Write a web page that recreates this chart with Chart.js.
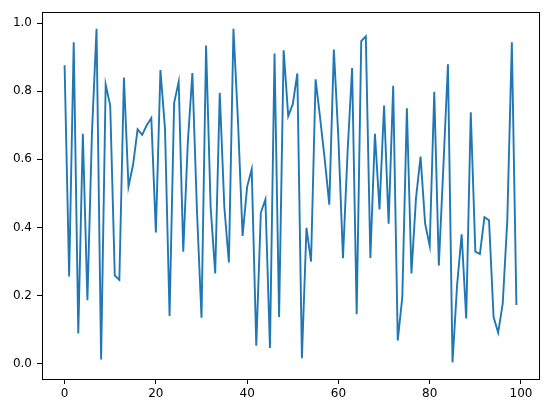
<!DOCTYPE html>
<html>
<head>
<meta charset="utf-8">
<script src="https://cdn.jsdelivr.net/npm/chart.js@4/dist/chart.umd.min.js"></script>
<style>
  body { margin: 0; background: #fff; }
  canvas { display: block; }
</style>
</head>
<body>
<canvas id="lineChart" width="547" height="413"></canvas>
<script>
// values, one per integer x (0..99)
const seriesValues = [
    0.876, 0.256, 0.944, 0.089, 0.675, 0.186, 0.68, 0.983, 0.012, 0.82,
    0.758, 0.259, 0.246, 0.840, 0.520, 0.584, 0.688, 0.672, 0.70, 0.721,
    0.385, 0.862, 0.69, 0.14, 0.765, 0.828, 0.329, 0.65, 0.853, 0.45,
    0.135, 0.934, 0.46, 0.265, 0.795, 0.46, 0.297, 0.983, 0.71, 0.375,
    0.52, 0.571, 0.053, 0.443, 0.482, 0.046, 0.911, 0.137, 0.920, 0.727,
    0.762, 0.852, 0.016, 0.399, 0.30, 0.835, 0.72, 0.60, 0.467, 0.922,
    0.66, 0.31, 0.62, 0.868, 0.145, 0.947, 0.961, 0.31, 0.675, 0.453,
    0.758, 0.411, 0.816, 0.068, 0.196, 0.75, 0.265, 0.486, 0.608, 0.411,
    0.346, 0.798, 0.288, 0.58, 0.879, 0.004, 0.23, 0.38, 0.133, 0.738,
    0.329, 0.322, 0.430, 0.421, 0.137, 0.091, 0.176, 0.42, 0.944, 0.172
];
const xTicks = [0, 20, 40, 60, 80, 100];
const yTicks = [0.0, 0.2, 0.4, 0.6, 0.8, 1.0];

// matplotlib style 5% margins around the data
const xLo = 0, xHi = seriesValues.length - 1;
const xPad = (xHi - xLo) * 0.05;
const yLo = Math.min(...seriesValues), yHi = Math.max(...seriesValues);
const yPad = (yHi - yLo) * 0.05;

const frame = {
    id: 'frame',
    afterDraw(chart) {
        const { ctx, chartArea: a } = chart;
        ctx.save();
        ctx.strokeStyle = '#000';
        ctx.lineWidth = 1;
        ctx.strokeRect(Math.round(a.left) + 0.5, Math.round(a.top) + 0.5,
            Math.round(a.right - a.left), Math.round(a.bottom - a.top));
        ctx.restore();
    }
};

const tickFont = { family: 'DejaVu Sans', size: 12 };

new Chart(document.getElementById('lineChart'), {
    type: 'line',
    data: {
        datasets: [{
            data: seriesValues.map((v, i) => ({ x: i, y: v })),
            borderColor: '#1f77b4',
            borderWidth: 1.9,
            pointRadius: 0,
            tension: 0,
            fill: false
        }]
    },
    options: {
        responsive: false,
        animation: false,
        devicePixelRatio: 1,
        layout: { padding: { top: 10, right: 8, left: 0, bottom: 0 } },
        plugins: { legend: { display: false }, tooltip: { enabled: false } },
        scales: {
            x: {
                type: 'linear',
                min: xLo - xPad,
                max: xHi + xPad,
                afterBuildTicks: s => { s.ticks = xTicks.map(v => ({ value: v })); },
                afterFit: s => { s.height = 34; },
                grid: { drawOnChartArea: false, drawTicks: true, tickLength: 5, color: '#000' },
                border: { display: false },
                ticks: { color: '#000', font: tickFont, padding: 3, maxRotation: 0,
                         callback: v => String(v) }
            },
            y: {
                type: 'linear',
                min: yLo - yPad,
                max: yHi + yPad,
                afterBuildTicks: s => { s.ticks = yTicks.map(v => ({ value: v })); },
                afterFit: s => { s.width = 42; },
                grid: { drawOnChartArea: false, drawTicks: true, tickLength: 5, color: '#000' },
                border: { display: false },
                ticks: { color: '#000', font: tickFont, padding: 5,
                         callback: v => v.toFixed(1) }
            }
        }
    },
    plugins: [frame]
});
</script>
</body>
</html>
